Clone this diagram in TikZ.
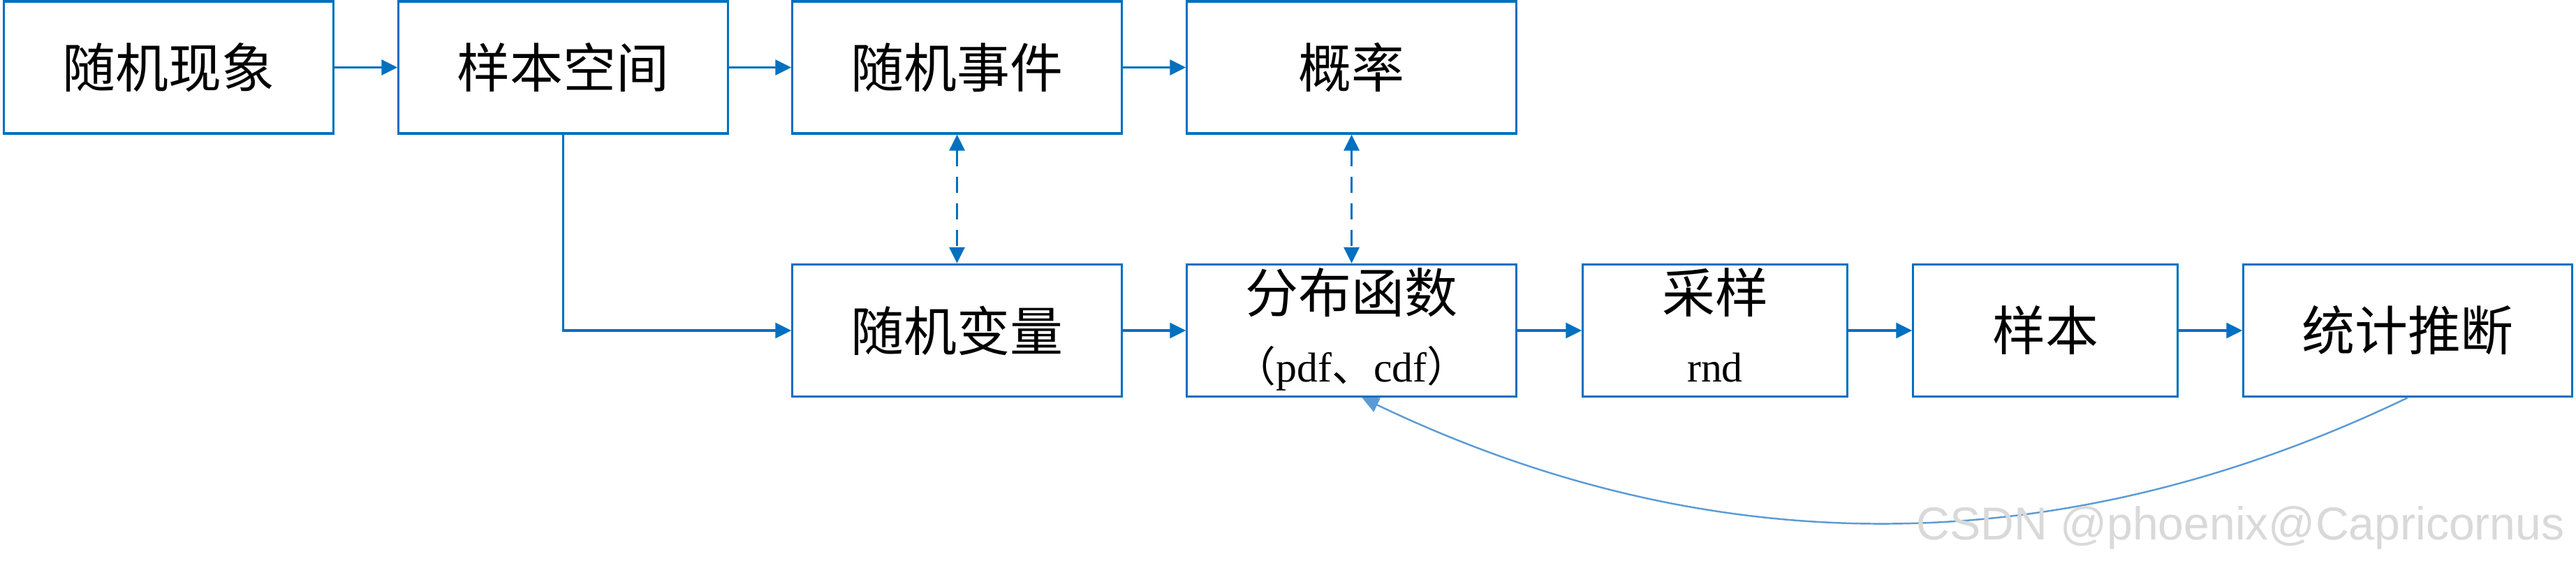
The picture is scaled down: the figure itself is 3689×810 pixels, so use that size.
\documentclass[tikz,border=0pt]{standalone}
\usepackage{fontspec}
\setmainfont{Liberation Serif}
\newfontfamily\cjk{Noto Sans CJK SC}
\newfontfamily\wmfont{Liberation Sans}
\usetikzlibrary{arrows.meta}
\definecolor{boxblue}{HTML}{0070C0}
\definecolor{curveblue}{HTML}{5B9BD5}
\definecolor{wmgray}{HTML}{D9D9D9}
\begin{document}
\begin{tikzpicture}[x=0.01cm,y=-0.01cm,
  box/.style={draw=boxblue, line width=0.9pt, fill=white, minimum height=1.89cm, inner sep=0pt},
  big/.style={font=\cjk\fontsize{21.6}{26}\selectfont},
  small/.style={font=\fontsize{17}{20}\selectfont},
  conn/.style={draw=boxblue, line width=0.9pt, -{Triangle[length=0.23cm,width=0.22cm]}},
  dconn/.style={draw=boxblue, line width=0.9pt, dash pattern=on 0.23cm off 0.15cm, {Triangle[length=0.23cm,width=0.22cm]}-{Triangle[length=0.23cm,width=0.22cm]}},
]
\useasboundingbox (0,0) rectangle (3689,810);
\node[box, big, minimum width=4.71cm] (phen) at (241.5,96.5) {随机现象};
\node[box, big, minimum width=4.71cm] (space) at (806.5,96.5) {样本空间};
\node[box, big, minimum width=4.71cm] (event) at (1370.5,96.5) {随机事件};
\node[box, big, minimum width=4.71cm] (prob) at (1935.5,96.5) {概率};
\node[box, big, minimum width=4.71cm] (rv) at (1370.5,473) {随机变量};
\node[box, minimum width=4.71cm] (dist) at (1935.5,473) {};
\node[big, anchor=base] (distA) at (1935.5,448) {分布函数};
\node[small, anchor=base] (distB) at (1935.5,547) {{\cjk （}pdf{\cjk 、}cdf{\cjk ）}};
\node[box, minimum width=3.78cm] (samp) at (2456,473) {};
\node[big, anchor=base] (sampA) at (2456,448) {采样};
\node[small, anchor=base] (sampB) at (2456,547) {rnd};
\node[box, big, minimum width=3.78cm] (sample) at (2929,473) {样本};
\node[box, big, minimum width=4.70cm] (infer) at (3448,473) {统计推断};
\draw[conn] (phen.east) -- (space.west);
\draw[conn] (space.east) -- (event.west);
\draw[conn] (event.east) -- (prob.west);
\draw[conn] (space.south) |- (rv.west);
\draw[conn] (rv.east) -- (dist.west);
\draw[conn] (dist.east) -- (samp.west);
\draw[conn] (samp.east) -- (sample.west);
\draw[conn] (sample.east) -- (infer.west);
\draw[dconn] (event.south) -- (rv.north);
\draw[dconn] (prob.south) -- (dist.north);
\draw[curveblue, line width=0.7pt, -{Triangle[length=0.24cm,width=0.22cm]}] (infer.south) .. controls (2950,808) and (2450,808) .. ([xshift=0.15cm]dist.south);
\node[font=\wmfont\fontsize{18.8}{22}\selectfont, text=wmgray, anchor=base west, inner sep=0pt] (wm) at (2744,773) {CSDN @phoenix@Capricornus};
\end{tikzpicture}
\end{document}
